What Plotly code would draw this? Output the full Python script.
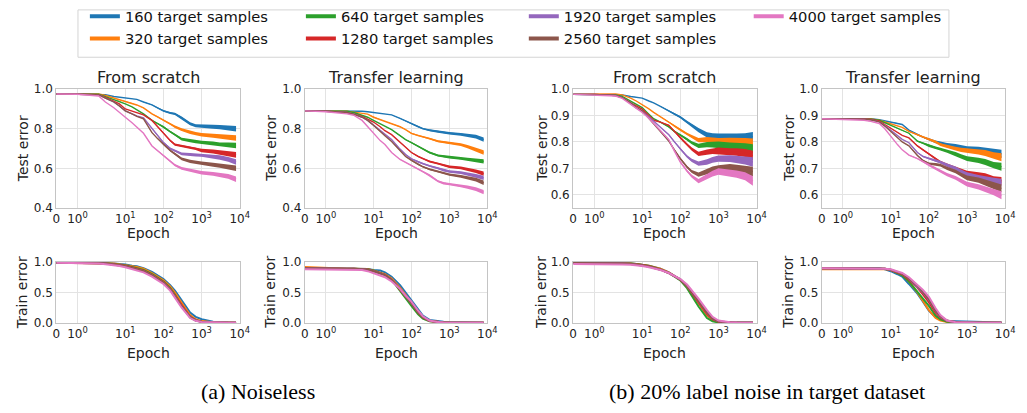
import numpy as np
import plotly.graph_objects as go

W, H = 1027, 413

# ---------------- data ----------------
EPOCHS = [0, 1, 2, 3, 5, 7, 10, 15, 20, 30, 50, 70, 100, 150, 200, 300, 500, 700,
          1000, 2000, 3000, 5000, 8000]
SAMPLES = ["160", "320", "640", "1280", "1920", "2560", "4000"]
COLORS = ["#1f77b4", "#ff7f0e", "#2ca02c", "#d62728", "#9467bd", "#8c564b", "#e377c2"]

X_TICKS = [0, 1, 10, 100, 1000, 10000]
X_TICK_TEXT = ["0", "10<sup>0</sup>", "10<sup>1</sup>", "10<sup>2</sup>", "10<sup>3</sup>", "10<sup>4</sup>"]

# (a) Noiseless - from scratch - test error
NOISELESS_SCRATCH_TEST = [
    [0.975, 0.975, 0.975, 0.972, 0.963, 0.96, 0.955, 0.952, 0.948, 0.935, 0.92, 0.905, 0.89, 0.88, 0.875, 0.855, 0.825, 0.815, 0.812, 0.81, 0.808, 0.805, 0.80],
    [0.975, 0.975, 0.975, 0.968, 0.955, 0.948, 0.94, 0.93, 0.92, 0.905, 0.875, 0.86, 0.842, 0.825, 0.81, 0.795, 0.782, 0.775, 0.77, 0.765, 0.76, 0.757, 0.753],
    [0.975, 0.975, 0.974, 0.962, 0.947, 0.94, 0.926, 0.91, 0.895, 0.875, 0.842, 0.825, 0.81, 0.785, 0.77, 0.748, 0.74, 0.735, 0.73, 0.725, 0.72, 0.718, 0.715],
    [0.975, 0.975, 0.972, 0.958, 0.94, 0.925, 0.9, 0.89, 0.882, 0.87, 0.842, 0.81, 0.777, 0.74, 0.72, 0.712, 0.705, 0.70, 0.69, 0.685, 0.68, 0.675, 0.668],
    [0.975, 0.975, 0.972, 0.955, 0.935, 0.915, 0.89, 0.875, 0.865, 0.855, 0.80, 0.765, 0.73, 0.70, 0.69, 0.673, 0.67, 0.668, 0.667, 0.66, 0.655, 0.645, 0.632],
    [0.975, 0.975, 0.972, 0.955, 0.935, 0.915, 0.89, 0.875, 0.862, 0.85, 0.78, 0.75, 0.72, 0.69, 0.673, 0.648, 0.635, 0.63, 0.625, 0.618, 0.614, 0.608, 0.60],
    [0.975, 0.974, 0.965, 0.935, 0.906, 0.885, 0.858, 0.83, 0.81, 0.777, 0.713, 0.69, 0.665, 0.635, 0.616, 0.60, 0.59, 0.585, 0.578, 0.572, 0.567, 0.56, 0.545],
]
NOISELESS_SCRATCH_SPREAD = [0, 0, 0, 0, 0, 0, 0, 0, 0, 0.001, 0.002, 0.003, 0.004, 0.005, 0.006, 0.007, 0.008, 0.008, 0.009, 0.01, 0.011, 0.012, 0.014]

# (a) Noiseless - transfer learning - test error
NOISELESS_TRANSFER_TEST = [
    [0.89, 0.89, 0.89, 0.89, 0.888, 0.886, 0.882, 0.878, 0.876, 0.87, 0.852, 0.84, 0.826, 0.81, 0.80, 0.792, 0.785, 0.78, 0.777, 0.772, 0.768, 0.76, 0.745],
    [0.89, 0.89, 0.888, 0.884, 0.878, 0.874, 0.858, 0.845, 0.838, 0.825, 0.81, 0.795, 0.777, 0.765, 0.76, 0.75, 0.737, 0.733, 0.73, 0.72, 0.71, 0.695, 0.68],
    [0.89, 0.89, 0.888, 0.882, 0.868, 0.858, 0.842, 0.825, 0.812, 0.795, 0.765, 0.745, 0.73, 0.71, 0.697, 0.68, 0.665, 0.66, 0.656, 0.65, 0.645, 0.64, 0.635],
    [0.89, 0.888, 0.882, 0.875, 0.862, 0.85, 0.834, 0.81, 0.79, 0.77, 0.73, 0.705, 0.68, 0.66, 0.648, 0.635, 0.624, 0.615, 0.608, 0.602, 0.596, 0.585, 0.573],
    [0.89, 0.888, 0.882, 0.874, 0.858, 0.842, 0.818, 0.79, 0.77, 0.745, 0.697, 0.67, 0.648, 0.632, 0.624, 0.612, 0.60, 0.59, 0.584, 0.578, 0.572, 0.562, 0.552],
    [0.89, 0.888, 0.882, 0.874, 0.858, 0.842, 0.818, 0.785, 0.765, 0.735, 0.689, 0.66, 0.64, 0.62, 0.608, 0.595, 0.584, 0.575, 0.568, 0.56, 0.553, 0.543, 0.527],
    [0.89, 0.886, 0.875, 0.868, 0.842, 0.81, 0.777, 0.74, 0.72, 0.68, 0.645, 0.63, 0.616, 0.598, 0.584, 0.565, 0.535, 0.525, 0.52, 0.512, 0.505, 0.495, 0.48],
]
NOISELESS_TRANSFER_SPREAD = [0, 0, 0, 0, 0, 0, 0, 0, 0, 0.001, 0.002, 0.002, 0.003, 0.004, 0.004, 0.005, 0.005, 0.006, 0.006, 0.007, 0.008, 0.009, 0.011]

# (b) 20% label noise - from scratch - test error
NOISY_SCRATCH_TEST = [
    [0.98, 0.98, 0.98, 0.978, 0.972, 0.97, 0.966, 0.955, 0.948, 0.935, 0.918, 0.905, 0.894, 0.875, 0.863, 0.845, 0.827, 0.822, 0.82, 0.818, 0.818, 0.818, 0.82],
    [0.98, 0.982, 0.982, 0.978, 0.966, 0.955, 0.942, 0.925, 0.912, 0.895, 0.876, 0.86, 0.845, 0.83, 0.82, 0.807, 0.809, 0.806, 0.803, 0.803, 0.802, 0.80, 0.795],
    [0.98, 0.98, 0.978, 0.972, 0.954, 0.942, 0.93, 0.905, 0.888, 0.875, 0.857, 0.84, 0.827, 0.81, 0.797, 0.785, 0.79, 0.79, 0.79, 0.785, 0.783, 0.78, 0.773],
    [0.98, 0.98, 0.976, 0.968, 0.948, 0.935, 0.924, 0.90, 0.882, 0.875, 0.863, 0.84, 0.815, 0.79, 0.773, 0.755, 0.761, 0.765, 0.767, 0.763, 0.762, 0.758, 0.749],
    [0.98, 0.98, 0.976, 0.968, 0.948, 0.93, 0.918, 0.895, 0.876, 0.855, 0.827, 0.80, 0.773, 0.745, 0.73, 0.718, 0.724, 0.732, 0.737, 0.737, 0.735, 0.73, 0.724],
    [0.98, 0.98, 0.976, 0.968, 0.948, 0.93, 0.918, 0.89, 0.87, 0.84, 0.803, 0.77, 0.737, 0.705, 0.688, 0.676, 0.688, 0.696, 0.70, 0.703, 0.70, 0.694, 0.688],
    [0.98, 0.978, 0.974, 0.965, 0.942, 0.925, 0.912, 0.89, 0.87, 0.845, 0.809, 0.765, 0.724, 0.69, 0.67, 0.652, 0.67, 0.68, 0.688, 0.682, 0.678, 0.67, 0.652],
]
NOISY_SCRATCH_SPREAD = [0, 0, 0, 0, 0, 0, 0, 0, 0, 0.001, 0.002, 0.003, 0.004, 0.005, 0.006, 0.008, 0.01, 0.011, 0.012, 0.013, 0.014, 0.015, 0.018]

# (b) 20% label noise - transfer learning - test error
NOISY_TRANSFER_TEST = [
    [0.888, 0.888, 0.888, 0.888, 0.884, 0.88, 0.876, 0.872, 0.866, 0.845, 0.827, 0.818, 0.81, 0.80, 0.797, 0.79, 0.785, 0.78, 0.775, 0.772, 0.767, 0.76, 0.755],
    [0.888, 0.888, 0.888, 0.887, 0.882, 0.876, 0.87, 0.862, 0.855, 0.84, 0.827, 0.818, 0.81, 0.80, 0.79, 0.782, 0.775, 0.77, 0.767, 0.762, 0.758, 0.749, 0.742],
    [0.888, 0.888, 0.888, 0.886, 0.882, 0.873, 0.863, 0.85, 0.842, 0.833, 0.803, 0.795, 0.785, 0.778, 0.773, 0.765, 0.755, 0.745, 0.737, 0.73, 0.724, 0.712, 0.706],
    [0.888, 0.888, 0.887, 0.885, 0.88, 0.866, 0.851, 0.835, 0.825, 0.815, 0.785, 0.77, 0.755, 0.738, 0.724, 0.712, 0.70, 0.69, 0.682, 0.675, 0.67, 0.658, 0.652],
    [0.888, 0.888, 0.886, 0.884, 0.876, 0.862, 0.845, 0.825, 0.81, 0.797, 0.76, 0.745, 0.737, 0.73, 0.724, 0.712, 0.70, 0.688, 0.676, 0.665, 0.658, 0.652, 0.646],
    [0.888, 0.888, 0.886, 0.884, 0.876, 0.86, 0.839, 0.815, 0.80, 0.785, 0.749, 0.73, 0.718, 0.715, 0.712, 0.70, 0.688, 0.675, 0.664, 0.655, 0.646, 0.634, 0.624],
    [0.888, 0.886, 0.882, 0.878, 0.87, 0.85, 0.821, 0.79, 0.77, 0.75, 0.737, 0.725, 0.712, 0.70, 0.688, 0.676, 0.664, 0.652, 0.64, 0.63, 0.622, 0.61, 0.598],
]
NOISY_TRANSFER_SPREAD = [0, 0, 0, 0, 0, 0, 0, 0, 0, 0.001, 0.002, 0.003, 0.004, 0.005, 0.005, 0.006, 0.007, 0.008, 0.009, 0.01, 0.011, 0.012, 0.015]

# train error panels
NOISELESS_SCRATCH_TRAIN = [
    [0.99, 0.99, 0.985, 0.98, 0.975, 0.97, 0.96, 0.94, 0.93, 0.90, 0.84, 0.78, 0.72, 0.62, 0.53, 0.37, 0.17, 0.10, 0.06, 0.02, 0.01, 0.005, 0.003],
    [0.99, 0.99, 0.985, 0.98, 0.975, 0.965, 0.95, 0.93, 0.92, 0.89, 0.82, 0.76, 0.70, 0.60, 0.50, 0.33, 0.13, 0.06, 0.03, 0.01, 0.005, 0.003, 0.002],
    [0.99, 0.99, 0.985, 0.98, 0.97, 0.96, 0.945, 0.92, 0.90, 0.87, 0.80, 0.74, 0.68, 0.57, 0.46, 0.28, 0.09, 0.04, 0.02, 0.008, 0.004, 0.002, 0.001],
    [0.99, 0.99, 0.985, 0.978, 0.965, 0.955, 0.94, 0.91, 0.89, 0.86, 0.79, 0.73, 0.67, 0.56, 0.45, 0.28, 0.10, 0.045, 0.02, 0.008, 0.004, 0.002, 0.001],
    [0.99, 0.99, 0.983, 0.975, 0.96, 0.95, 0.93, 0.90, 0.88, 0.85, 0.78, 0.72, 0.66, 0.55, 0.44, 0.27, 0.10, 0.04, 0.02, 0.008, 0.004, 0.002, 0.001],
    [0.99, 0.99, 0.983, 0.975, 0.96, 0.95, 0.93, 0.90, 0.88, 0.85, 0.78, 0.72, 0.66, 0.55, 0.44, 0.27, 0.10, 0.045, 0.02, 0.008, 0.004, 0.002, 0.001],
    [0.99, 0.985, 0.975, 0.965, 0.95, 0.935, 0.915, 0.885, 0.865, 0.83, 0.76, 0.70, 0.64, 0.53, 0.42, 0.25, 0.08, 0.035, 0.015, 0.006, 0.003, 0.002, 0.001],
]
NOISELESS_TRANSFER_TRAIN = [
    [0.90, 0.89, 0.89, 0.89, 0.89, 0.885, 0.87, 0.86, 0.83, 0.76, 0.62, 0.50, 0.38, 0.22, 0.12, 0.05, 0.025, 0.02, 0.015, 0.01, 0.008, 0.005, 0.004],
    [0.92, 0.90, 0.89, 0.89, 0.89, 0.885, 0.86, 0.83, 0.80, 0.73, 0.58, 0.46, 0.33, 0.18, 0.09, 0.035, 0.012, 0.008, 0.005, 0.003, 0.002, 0.002, 0.001],
    [0.90, 0.89, 0.89, 0.89, 0.89, 0.88, 0.86, 0.82, 0.79, 0.71, 0.52, 0.40, 0.28, 0.14, 0.07, 0.025, 0.01, 0.006, 0.004, 0.002, 0.002, 0.001, 0.001],
    [0.90, 0.89, 0.89, 0.89, 0.888, 0.878, 0.855, 0.82, 0.79, 0.71, 0.55, 0.43, 0.32, 0.17, 0.09, 0.03, 0.01, 0.006, 0.004, 0.002, 0.002, 0.001, 0.001],
    [0.90, 0.89, 0.89, 0.89, 0.886, 0.875, 0.85, 0.815, 0.785, 0.71, 0.56, 0.44, 0.33, 0.18, 0.10, 0.035, 0.012, 0.007, 0.004, 0.002, 0.002, 0.001, 0.001],
    [0.90, 0.89, 0.89, 0.89, 0.886, 0.875, 0.85, 0.815, 0.785, 0.71, 0.56, 0.44, 0.33, 0.18, 0.10, 0.035, 0.012, 0.007, 0.004, 0.002, 0.002, 0.001, 0.001],
    [0.88, 0.88, 0.88, 0.878, 0.87, 0.85, 0.82, 0.78, 0.75, 0.68, 0.56, 0.45, 0.35, 0.20, 0.11, 0.04, 0.013, 0.008, 0.004, 0.002, 0.002, 0.001, 0.001],
]
NOISY_SCRATCH_TRAIN = [
    [0.985, 0.985, 0.983, 0.98, 0.975, 0.97, 0.96, 0.94, 0.92, 0.89, 0.83, 0.77, 0.71, 0.60, 0.49, 0.33, 0.13, 0.05, 0.02, 0.01, 0.008, 0.006, 0.005],
    [0.985, 0.985, 0.983, 0.98, 0.975, 0.97, 0.96, 0.94, 0.92, 0.89, 0.83, 0.77, 0.71, 0.60, 0.50, 0.33, 0.13, 0.05, 0.015, 0.005, 0.003, 0.002, 0.002],
    [0.985, 0.985, 0.983, 0.98, 0.975, 0.968, 0.955, 0.935, 0.915, 0.88, 0.82, 0.76, 0.70, 0.57, 0.45, 0.27, 0.08, 0.025, 0.008, 0.003, 0.002, 0.001, 0.001],
    [0.985, 0.985, 0.983, 0.978, 0.972, 0.965, 0.95, 0.93, 0.91, 0.88, 0.82, 0.76, 0.71, 0.60, 0.50, 0.34, 0.15, 0.06, 0.02, 0.005, 0.003, 0.002, 0.001],
    [0.985, 0.985, 0.98, 0.975, 0.968, 0.96, 0.945, 0.925, 0.905, 0.875, 0.82, 0.765, 0.715, 0.61, 0.51, 0.36, 0.17, 0.07, 0.025, 0.006, 0.003, 0.002, 0.001],
    [0.985, 0.985, 0.98, 0.975, 0.968, 0.96, 0.945, 0.925, 0.905, 0.875, 0.82, 0.765, 0.715, 0.61, 0.51, 0.36, 0.17, 0.07, 0.025, 0.006, 0.003, 0.002, 0.001],
    [0.97, 0.97, 0.965, 0.96, 0.955, 0.948, 0.935, 0.915, 0.90, 0.87, 0.82, 0.77, 0.72, 0.63, 0.54, 0.40, 0.21, 0.10, 0.04, 0.01, 0.005, 0.003, 0.002],
]
NOISY_TRANSFER_TRAIN = [
    [0.90, 0.90, 0.90, 0.90, 0.90, 0.88, 0.85, 0.80, 0.76, 0.64, 0.48, 0.35, 0.20, 0.09, 0.05, 0.03, 0.025, 0.02, 0.02, 0.015, 0.01, 0.008, 0.006],
    [0.88, 0.88, 0.885, 0.89, 0.89, 0.885, 0.87, 0.83, 0.79, 0.68, 0.50, 0.36, 0.21, 0.08, 0.04, 0.015, 0.008, 0.005, 0.004, 0.003, 0.002, 0.002, 0.001],
    [0.90, 0.90, 0.90, 0.90, 0.90, 0.89, 0.87, 0.82, 0.78, 0.68, 0.50, 0.40, 0.28, 0.12, 0.06, 0.02, 0.008, 0.005, 0.003, 0.002, 0.002, 0.001, 0.001],
    [0.90, 0.90, 0.90, 0.90, 0.90, 0.89, 0.87, 0.83, 0.80, 0.71, 0.58, 0.47, 0.34, 0.17, 0.09, 0.03, 0.01, 0.006, 0.004, 0.002, 0.002, 0.001, 0.001],
    [0.90, 0.90, 0.90, 0.90, 0.90, 0.89, 0.875, 0.84, 0.81, 0.73, 0.60, 0.50, 0.38, 0.20, 0.10, 0.035, 0.012, 0.007, 0.004, 0.002, 0.002, 0.001, 0.001],
    [0.90, 0.90, 0.90, 0.90, 0.90, 0.89, 0.875, 0.84, 0.81, 0.73, 0.61, 0.51, 0.39, 0.21, 0.11, 0.04, 0.012, 0.007, 0.004, 0.002, 0.002, 0.001, 0.001],
    [0.90, 0.90, 0.90, 0.90, 0.90, 0.89, 0.88, 0.85, 0.82, 0.75, 0.63, 0.54, 0.43, 0.24, 0.13, 0.04, 0.012, 0.007, 0.004, 0.002, 0.002, 0.001, 0.001],
]

# ---------------- symmetric-log x scale (linear near 0, log above) ----------------
LINTHRESH = 2.0
LINSCALE = 1.0 / (1.0 - 1.0 / 10.0)


def symlog(v):
    v = np.asarray(v, dtype=float)
    safe = np.maximum(v, 1e-12)
    return np.where(v <= LINTHRESH, v * LINSCALE / LINTHRESH,
                    LINSCALE + np.log10(safe / LINTHRESH))


TX = symlog(EPOCHS)
XT = symlog(X_TICKS)
XMAX = float(symlog([10000])[0])

FONT = "DejaVu Sans"
TXT = "#222222"
FRAME = "#c4c4c4"
GRID = "#e3e3e3"

TOP_Y = (85, 208)
BOT_Y = (264, 327)
COLS = [(53, 239), (305, 490), (577, 763), (829, 1015)]
panels = [
    (NOISELESS_SCRATCH_TEST, NOISELESS_SCRATCH_SPREAD, COLS[0], TOP_Y, [0.4, 1.0], [0.4, 0.6, 0.8, 1.0], "From scratch", "Test error"),
    (NOISELESS_TRANSFER_TEST, NOISELESS_TRANSFER_SPREAD, COLS[1], TOP_Y, [0.4, 1.0], [0.4, 0.6, 0.8, 1.0], "Transfer learning", "Test error"),
    (NOISY_SCRATCH_TEST, NOISY_SCRATCH_SPREAD, COLS[2], TOP_Y, [0.55, 1.0], [0.6, 0.7, 0.8, 0.9, 1.0], "From scratch", "Test error"),
    (NOISY_TRANSFER_TEST, NOISY_TRANSFER_SPREAD, COLS[3], TOP_Y, [0.55, 1.0], [0.6, 0.7, 0.8, 0.9, 1.0], "Transfer learning", "Test error"),
    (NOISELESS_SCRATCH_TRAIN, None, COLS[0], BOT_Y, [0.0, 1.0], [0.0, 0.5, 1.0], None, "Train error"),
    (NOISELESS_TRANSFER_TRAIN, None, COLS[1], BOT_Y, [0.0, 1.0], [0.0, 0.5, 1.0], None, "Train error"),
    (NOISY_SCRATCH_TRAIN, None, COLS[2], BOT_Y, [0.0, 1.0], [0.0, 0.5, 1.0], None, "Train error"),
    (NOISY_TRANSFER_TRAIN, None, COLS[3], BOT_Y, [0.0, 1.0], [0.0, 0.5, 1.0], None, "Train error"),
]
YLABEL_X = [19, 270, 545, 795]


def px(x):
    return x / W


def py(y):
    return 1 - y / H


fig = go.Figure()
annotations = []
layout_axes = {}

for i, (data, spread, (x0, x1), (y0, y1), yr, yt, title, ylabel) in enumerate(panels):
    n = i + 1
    xa = "x" if n == 1 else f"x{n}"
    ya = "y" if n == 1 else f"y{n}"
    for k, series in enumerate(data):
        yv = np.asarray(series, dtype=float)
        if spread is not None:
            s = np.asarray(spread, dtype=float)
            fig.add_trace(go.Scatter(
                x=np.concatenate([TX, TX[::-1]]),
                y=np.concatenate([yv + s, (yv - s)[::-1]]),
                fill="toself", fillcolor=COLORS[k], mode="lines",
                line=dict(width=0, color=COLORS[k]), hoverinfo="skip",
                showlegend=False, xaxis=xa, yaxis=ya))
        fig.add_trace(go.Scatter(
            x=TX, y=yv, mode="lines",
            line=dict(color=COLORS[k], width=1.4 if spread is not None else 2.0),
            name=f"{SAMPLES[k]} target samples", showlegend=False,
            xaxis=xa, yaxis=ya))

    axis_common = dict(showline=True, mirror=True, linecolor=FRAME, linewidth=1,
                       showgrid=True, gridcolor=GRID, gridwidth=1, zeroline=False,
                       ticks="", tickfont=dict(family=FONT, size=12, color=TXT),
                       fixedrange=True)
    layout_axes["xaxis" if n == 1 else f"xaxis{n}"] = dict(
        axis_common, domain=[px(x0), px(x1)], range=[0, XMAX],
        tickmode="array", tickvals=list(XT), ticktext=X_TICK_TEXT,
        anchor=ya)
    layout_axes["yaxis" if n == 1 else f"yaxis{n}"] = dict(
        axis_common, domain=[py(y1), py(y0)], range=yr,
        tickmode="array", tickvals=yt, tickformat=".1f", anchor=xa)

    col = COLS.index((x0, x1))
    if title:
        annotations.append(dict(text=title, x=px((x0 + x1) / 2), y=py(73),
                                xref="paper", yref="paper", showarrow=False,
                                xanchor="center", yanchor="middle",
                                font=dict(family=FONT, size=16, color=TXT)))
    annotations.append(dict(text=ylabel, x=px(YLABEL_X[col]), y=py((y0 + y1) / 2),
                            xref="paper", yref="paper", showarrow=False, textangle=-90,
                            xanchor="center", yanchor="middle",
                            font=dict(family=FONT, size=14, color=TXT)))
    annotations.append(dict(text="Epoch", x=px((x0 + x1) / 2),
                            y=py(y1 + 26 if y1 == 208 else y1 + 31),
                            xref="paper", yref="paper", showarrow=False,
                            xanchor="center", yanchor="middle",
                            font=dict(family=FONT, size=14, color=TXT)))

annotations.append(dict(text="(a) Noiseless", x=px(258), y=py(398), xref="paper", yref="paper",
                        showarrow=False, xanchor="center", yanchor="middle",
                        font=dict(family="Liberation Serif", size=22, color="#000")))
annotations.append(dict(text="(b) 20% label noise in target dataset", x=px(774), y=py(398),
                        xref="paper", yref="paper", showarrow=False, xanchor="center",
                        yanchor="middle",
                        font=dict(family="Liberation Serif", size=22, color="#000")))

# legend entries (one legend per column, two rows each)
LEGEND_IDS = ["legend", "legend2", "legend3", "legend4"]
LEGEND_TEXT_X = [122, 341, 567, 795]
for k, s in enumerate(SAMPLES):
    fig.add_trace(go.Scatter(x=[None], y=[None], mode="lines",
                             line=dict(color=COLORS[k], width=4),
                             name=f"{s} target samples", showlegend=True,
                             legend=LEGEND_IDS[k // 2]))

legend_common = dict(orientation="v", xanchor="left", yanchor="top",
                     bgcolor="rgba(0,0,0,0)", borderwidth=0,
                     font=dict(family=FONT, size=14.7, color="#111"),
                     tracegroupgap=0)
legends = {}
for j, lid in enumerate(LEGEND_IDS):
    legends[lid] = dict(legend_common, x=px(LEGEND_TEXT_X[j] - 40), y=py(-7))

fig.update_layout(
    width=W, height=H, margin=dict(l=0, r=0, t=0, b=0),
    paper_bgcolor="white", plot_bgcolor="white",
    showlegend=True,
    annotations=annotations,
    shapes=[dict(type="rect", xref="paper", yref="paper",
                 x0=px(75), x1=px(958), y0=py(52), y1=py(3),
                 line=dict(color="#d4d4d4", width=1), fillcolor="white", layer="below")],
    **layout_axes, **legends,
)

fig.write_html("out.html")
